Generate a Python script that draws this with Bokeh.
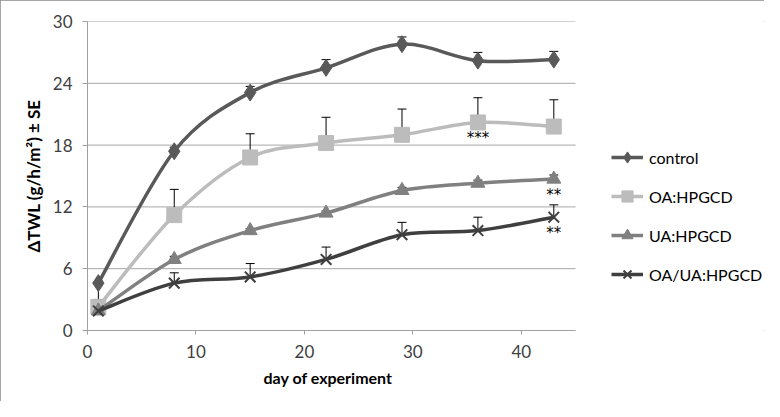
from bokeh.plotting import figure
from bokeh.models import Range1d, Legend, LegendItem, FixedTicker, ColumnDataSource, Title
from bokeh.core.properties import value
from bokeh.embed import file_html
from bokeh.resources import INLINE

days = [1, 8, 15, 22, 29, 36, 43]
control = [4.6, 17.4, 23.1, 25.5, 27.8, 26.2, 26.3]
control_err = [-1.6, 0.4, 0.6, 0.8, 0.7, 0.8, 0.8]
oa = [2.3, 11.2, 16.8, 18.2, 19.0, 20.2, 19.8]
oa_err = [0.0, 2.5, 2.3, 2.5, 2.5, 2.4, 2.6]
ua = [1.9, 6.9, 9.7, 11.4, 13.6, 14.3, 14.7]
ua_err = [0.0, 0.3, 0.2, 0.2, 0.3, 0.3, 0.4]
oaua = [1.9, 4.6, 5.2, 6.9, 9.3, 9.7, 11.0]
oaua_err = [0.0, 1.0, 1.3, 1.2, 1.2, 1.3, 1.2]
labels = ["control", "OA:HPGCD", "UA:HPGCD", "OA/UA:HPGCD"]
x_ticks = [0, 10, 20, 30, 40]
y_ticks = [0, 6, 12, 18, 24, 30]
sig_text = ["***", "**", "**"]
sig_day = [36, 43, 43]
sig_y = [18.7, 13.2, 9.5]

FONT = "Lato"
W, H = 764, 401
FL, FR, FT, FB = 87, 575, 21, 330
XMAX, YMAX = 45, 30
# frame extends to the right edge so the legend can sit inside it
x_end = XMAX * (W - FL) / (FR - FL)
p = figure(width=W, height=H, output_backend="svg", toolbar_location=None,
           x_range=Range1d(0, x_end), y_range=Range1d(0, YMAX),
           min_border_left=FL, min_border_right=0,
           min_border_top=FT, min_border_bottom=H - FB)
p.styles = {"outline": "1px solid #8a8a8a", "outline-offset": "-1px"}
p.outline_line_color = None
p.xgrid.grid_line_color = None
p.ygrid.grid_line_color = None

# horizontal gridlines limited to the data area
p.segment(x0=[0] * len(y_ticks), x1=[XMAX] * len(y_ticks), y0=y_ticks, y1=y_ticks,
          line_color="#a6a6a6", line_width=1)

p.xaxis.ticker = FixedTicker(ticks=x_ticks)
p.yaxis.ticker = FixedTicker(ticks=y_ticks)
p.xaxis.bounds = (0, XMAX)
for ax in (p.xaxis[0], p.yaxis[0]):
    ax.axis_line_color = "#a0a0a0"
    ax.major_tick_line_color = "#a0a0a0"
    ax.minor_tick_line_color = None
    ax.major_tick_in = 0
    ax.major_tick_out = 5
    ax.major_label_text_font = FONT
    ax.major_label_text_font_size = "17px"
    ax.major_label_text_color = "#404040"
    ax.axis_label_text_font = FONT
    ax.axis_label_text_font_size = "17px"
    ax.axis_label_text_font_style = "bold"
    ax.axis_label_text_color = "#000000"
p.xaxis.major_tick_out = 4
p.xaxis.major_label_standoff = 10
p.yaxis.major_label_standoff = 10
p.yaxis.axis_label = "\u0394TWL (g/h/m\u00b2) \u00b1 SE"
p.yaxis.axis_label_standoff = 6

xt = Title(text="day of experiment", align="left", offset=176, standoff=11,
           text_font=FONT, text_font_size="16px", text_font_style="bold", text_color="#000000")
p.add_layout(xt, "below")


def smooth(xs, ys):
    n = len(xs)
    x0, y0, x1, y1, cx0, cy0, cx1, cy1 = [], [], [], [], [], [], [], []
    for i in range(n - 1):
        im = max(i - 1, 0)
        ip2 = min(i + 2, n - 1)
        x0.append(xs[i]); y0.append(ys[i])
        x1.append(xs[i + 1]); y1.append(ys[i + 1])
        cx0.append(xs[i] + (xs[i + 1] - xs[im]) / 6.0)
        cy0.append(ys[i] + (ys[i + 1] - ys[im]) / 6.0)
        cx1.append(xs[i + 1] - (xs[ip2] - xs[i]) / 6.0)
        cy1.append(ys[i + 1] - (ys[ip2] - ys[i]) / 6.0)
    return dict(x0=x0, y0=y0, x1=x1, y1=y1, cx0=cx0, cy0=cy0, cx1=cx1, cy1=cy1)


series = [
    (control, control_err, "#595959", "diamond", 17),
    (oa, oa_err, "#bcbcbc", "square", 15),
    (ua, ua_err, "#808080", "triangle", 14),
    (oaua, oaua_err, "#3f3f3f", "x", 15),
]

for ys, errs, color, marker, size in series:
    xs = [d for d, e in zip(days, errs) if e != 0]
    lo = [y for y, e in zip(ys, errs) if e != 0]
    hi = [y + e for y, e in zip(ys, errs) if e != 0]
    src = ColumnDataSource(dict(x=xs, lo=lo, hi=hi))
    p.segment(x0="x", y0="lo", x1="x", y1="hi", source=src, line_color="black", line_width=1)
    p.dash(x="x", y="hi", source=src, size=9, line_color="black", line_width=1)

items = []
for (ys, errs, color, marker, size), lab in zip(series, labels):
    sm = smooth(days, ys)
    p.bezier(source=ColumnDataSource(sm), x0="x0", y0="y0", x1="x1", y1="y1",
             cx0="cx0", cy0="cy0", cx1="cx1", cy1="cy1", line_color=color, line_width=3.5)
    # off-screen stand-in so the legend draws a line key
    ln = p.line([-10, -9], [-10, -10], line_color=color, line_width=3.5)
    if marker == "x":
        sc = p.scatter(days, ys, marker="x", size=size, line_color=color, line_width=2)
    else:
        sc = p.scatter(days, ys, marker=marker, size=size, fill_color=color, line_color=color)
    items.append(LegendItem(label=lab, renderers=[ln, sc]))

p.text(x=sig_day, y=sig_y, text=sig_text, text_align="center", text_baseline="middle",
       text_font=value("DejaVu Sans"), text_font_size="15px", text_color="black")

legend = Legend(items=items, location=(FR - FL + 36, 42), orientation="vertical",
                background_fill_alpha=0, border_line_color=None,
                padding=0, margin=0, spacing=11, glyph_width=32, glyph_height=28,
                label_height=28, label_standoff=6,
                label_text_font=FONT, label_text_font_size="16px", label_text_color="#000000")
p.add_layout(legend, "center")

open("out.html", "w").write(file_html(p, INLINE))
